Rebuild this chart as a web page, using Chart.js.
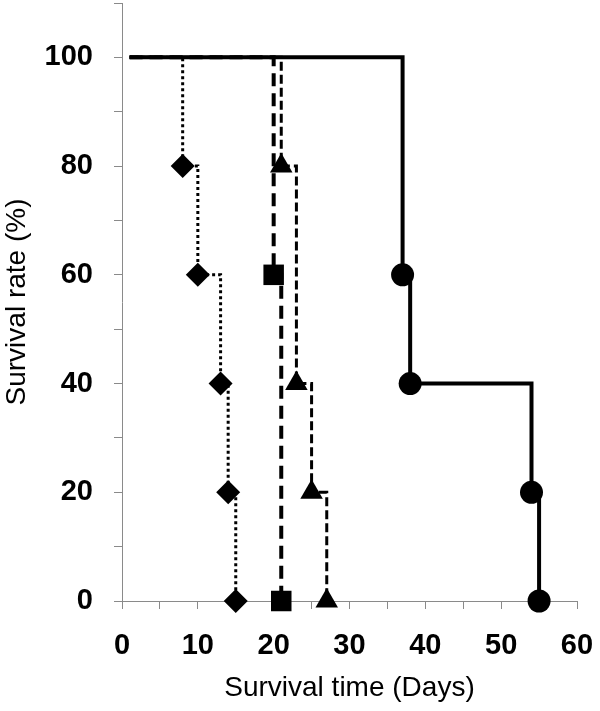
<!DOCTYPE html>
<html>
<head>
<meta charset="utf-8">
<script src="https://cdn.jsdelivr.net/npm/chart.js@4"></script>
<style>
  html, body { margin: 0; padding: 0; background: #fff; }
  #wrap { width: 600px; height: 711px; position: relative; }
</style>
</head>
<body>
<div id="wrap"><canvas id="km"></canvas></div>
<script>
// survival curves, time in days, rate in %
const circleDays = [1, 37, 38, 54, 55];
const circleRate = [100, 60, 40, 20, 0];
const squareDays = [1, 20, 21];
const squareRate = [100, 60, 0];
const triangleDays = [1, 21, 23, 25, 27];
const triangleRate = [100, 80, 40, 20, 0];
const diamondDays = [1, 8, 10, 13, 14, 15];
const diamondRate = [100, 80, 60, 40, 20, 0];

const xTickLabels = [0, 10, 20, 30, 40, 50, 60];
const yTickLabels = [0, 20, 40, 60, 80, 100];

function toPoints(xs, ys) {
  let pts = [];
  for (let i = 0; i < xs.length; i++) {
    pts.push({ x: xs[i], y: ys[i] });
  }
  return pts;
}

// no marker on the starting point of each curve
function markerSize(r) {
  return ctx => ctx.dataIndex === 0 ? 0 : r;
}

function curve(xs, ys, style, r, dash, width) {
  return {
    data: toPoints(xs, ys),
    stepped: 'before',
    borderColor: '#000',
    backgroundColor: '#000',
    borderWidth: width,
    borderDash: dash,
    pointStyle: style,
    pointRadius: markerSize(r),
    pointHoverRadius: markerSize(r),
    pointBorderWidth: 0,
    fill: false,
    clip: false
  };
}

// fixed box sizes so the plot area lands where the original has it
function noPad(s) {
  s.paddingTop = 0;
  s.paddingBottom = 0;
  s.paddingLeft = 0;
  s.paddingRight = 0;
}

const font = "'Liberation Sans', Arial, sans-serif";
const axisGrey = '#8a8a8a';

new Chart(document.getElementById('km'), {
  type: 'line',
  data: {
    datasets: [
      curve(circleDays, circleRate, 'circle', 11.5, [], 4),
      curve(squareDays, squareRate, 'rect', 14.5, [13, 7], 4),
      curve(triangleDays, triangleRate, 'triangle', 13, [9, 4], 3),
      curve(diamondDays, diamondRate, 'rectRot', 12, [3, 3], 3)
    ]
  },
  options: {
    responsive: true,
    maintainAspectRatio: false,
    animation: false,
    layout: { autoPadding: false, padding: { left: 0, right: 23, top: 3, bottom: 0 } },
    plugins: {
      legend: { display: false },
      tooltip: { enabled: false }
    },
    scales: {
      x: {
        type: 'linear',
        min: 0,
        max: 60,
        afterFit: s => { s.height = 110; noPad(s); },
        border: { color: axisGrey, width: 1 },
        grid: { drawOnChartArea: false, color: axisGrey, tickLength: 8 },
        ticks: {
          stepSize: 5,
          autoSkip: false,
          maxRotation: 0,
          padding: 20,
          color: '#000',
          font: { family: font, size: 29, weight: 'bold' },
          callback: v => xTickLabels.includes(v) ? v : ''
        },
        title: {
          display: true,
          text: 'Survival time (Days)',
          color: '#000',
          font: { family: font, size: 28 },
          padding: { top: 0, bottom: 6 }
        }
      },
      y: {
        min: 0,
        max: 110,
        afterFit: s => { s.width = 122; noPad(s); },
        border: { color: axisGrey, width: 1 },
        grid: { drawOnChartArea: false, color: axisGrey, tickLength: 8 },
        ticks: {
          stepSize: 10,
          autoSkip: false,
          padding: 21,
          color: '#000',
          font: { family: font, size: 29, weight: 'bold' },
          callback: v => yTickLabels.includes(v) ? v : ''
        },
        title: {
          display: true,
          text: 'Survival rate (%)',
          color: '#000',
          font: { family: font, size: 28 },
          padding: { top: 0, bottom: 0 }
        }
      }
    }
  }
});
</script>
</body>
</html>
